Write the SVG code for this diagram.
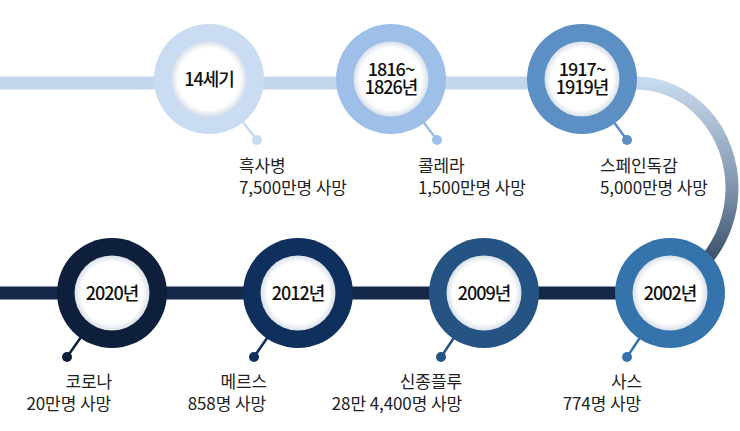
<svg xmlns="http://www.w3.org/2000/svg" width="740" height="431" viewBox="0 0 740 431">
<defs>
<style>
.lbl{font-family:"Noto Sans CJK KR","Noto Sans",sans-serif;font-size:18px;fill:#111;text-anchor:middle;letter-spacing:-1px;font-weight:500}
.desc{font-family:"Noto Sans CJK KR","Noto Sans",sans-serif;font-size:17px;fill:#222;letter-spacing:-0.1px}
.end{text-anchor:end}
.inner{fill:url(#innerGrad)}
</style>
<radialGradient id="innerGrad" cx="0.5" cy="0.5" r="0.5">
<stop offset="0.82" stop-color="#ffffff"/>
<stop offset="1" stop-color="#d9e0e9"/>
</radialGradient>
<linearGradient id="curveGrad" gradientUnits="userSpaceOnUse" x1="0" y1="80" x2="0" y2="293">
<stop offset="0" stop-color="#c8daee"/>
<stop offset="0.5" stop-color="#8095ae"/>
<stop offset="0.85" stop-color="#3a4f6a"/>
<stop offset="1" stop-color="#22344f"/>
</linearGradient>
</defs>
<rect width="740" height="431" fill="#ffffff"/>
<g id="connectors">
<line x1="0" y1="83" x2="600" y2="83" stroke="#c3d6eb" stroke-width="13"/>
<path d="M 636 83 A 96 105 0 0 1 636 293" fill="none" stroke="url(#curveGrad)" stroke-width="13"/>
<line x1="0" y1="293" x2="680" y2="293" stroke="#14284a" stroke-width="13"/>
</g>
<g id="node-14c">
<line x1="209" y1="79" x2="257" y2="140" stroke="#c9dcf1" stroke-width="2.5"/>
<circle cx="257" cy="140" r="5" fill="#c9dcf1"/>
<circle cx="209" cy="79" r="55" fill="#c9dcf1"/>
<circle cx="209" cy="79" r="37.5" class="inner"/>
<text class="lbl" x="209" y="85.5">14세기</text>
<text class="desc" x="239" y="172">흑사병</text>
<text class="desc" x="239" y="194">7,500만명 사망</text>
</g>
<g id="node-1816">
<line x1="391" y1="79" x2="437" y2="140" stroke="#9ec0e8" stroke-width="2.5"/>
<circle cx="437" cy="140" r="5" fill="#9ec0e8"/>
<circle cx="391" cy="79" r="55" fill="#9ec0e8"/>
<circle cx="391" cy="79" r="37.5" class="inner"/>
<text class="lbl" x="391" y="76">1816~</text>
<text class="lbl" x="391" y="94">1826년</text>
<text class="desc" x="418" y="172">콜레라</text>
<text class="desc" x="418" y="194">1,500만명 사망</text>
</g>
<g id="node-1917">
<line x1="582" y1="79" x2="627" y2="140" stroke="#5c8fc4" stroke-width="2.5"/>
<circle cx="627" cy="140" r="5" fill="#5c8fc4"/>
<circle cx="582" cy="79" r="55" fill="#5c8fc4"/>
<circle cx="582" cy="79" r="37.5" class="inner"/>
<text class="lbl" x="582" y="76">1917~</text>
<text class="lbl" x="582" y="94">1919년</text>
<text class="desc" x="600" y="172">스페인독감</text>
<text class="desc" x="600" y="194">5,000만명 사망</text>
</g>
<g id="node-2002">
<line x1="670" y1="293" x2="627" y2="357" stroke="#3473ab" stroke-width="2.5"/>
<circle cx="627" cy="357" r="5" fill="#3473ab"/>
<circle cx="670" cy="293" r="55" fill="#3473ab"/>
<circle cx="670" cy="293" r="37.5" class="inner"/>
<text class="lbl" x="670" y="300">2002년</text>
<text class="desc end" x="642" y="388">사스</text>
<text class="desc end" x="641" y="410">774명 사망</text>
</g>
<g id="node-2009">
<line x1="484" y1="293" x2="441" y2="357" stroke="#255384" stroke-width="2.5"/>
<circle cx="441" cy="357" r="5" fill="#255384"/>
<circle cx="484" cy="293" r="55" fill="#255384"/>
<circle cx="484" cy="293" r="37.5" class="inner"/>
<text class="lbl" x="484" y="300">2009년</text>
<text class="desc end" x="462" y="388">신종플루</text>
<text class="desc end" x="462" y="410">28만 4,400명 사망</text>
</g>
<g id="node-2012">
<line x1="298" y1="293" x2="254" y2="357" stroke="#0f305c" stroke-width="2.5"/>
<circle cx="254" cy="357" r="5" fill="#0f305c"/>
<circle cx="298" cy="293" r="55" fill="#0f305c"/>
<circle cx="298" cy="293" r="37.5" class="inner"/>
<text class="lbl" x="298" y="300">2012년</text>
<text class="desc end" x="267" y="388">메르스</text>
<text class="desc end" x="266" y="410">858명 사망</text>
</g>
<g id="node-2020">
<line x1="112" y1="293" x2="67" y2="357" stroke="#0d1f3b" stroke-width="2.5"/>
<circle cx="67" cy="357" r="5" fill="#0d1f3b"/>
<circle cx="112" cy="293" r="55" fill="#0d1f3b"/>
<circle cx="112" cy="293" r="37.5" class="inner"/>
<text class="lbl" x="112" y="300">2020년</text>
<text class="desc end" x="112" y="388">코로나</text>
<text class="desc end" x="111" y="410">20만명 사망</text>
</g>
</svg>
